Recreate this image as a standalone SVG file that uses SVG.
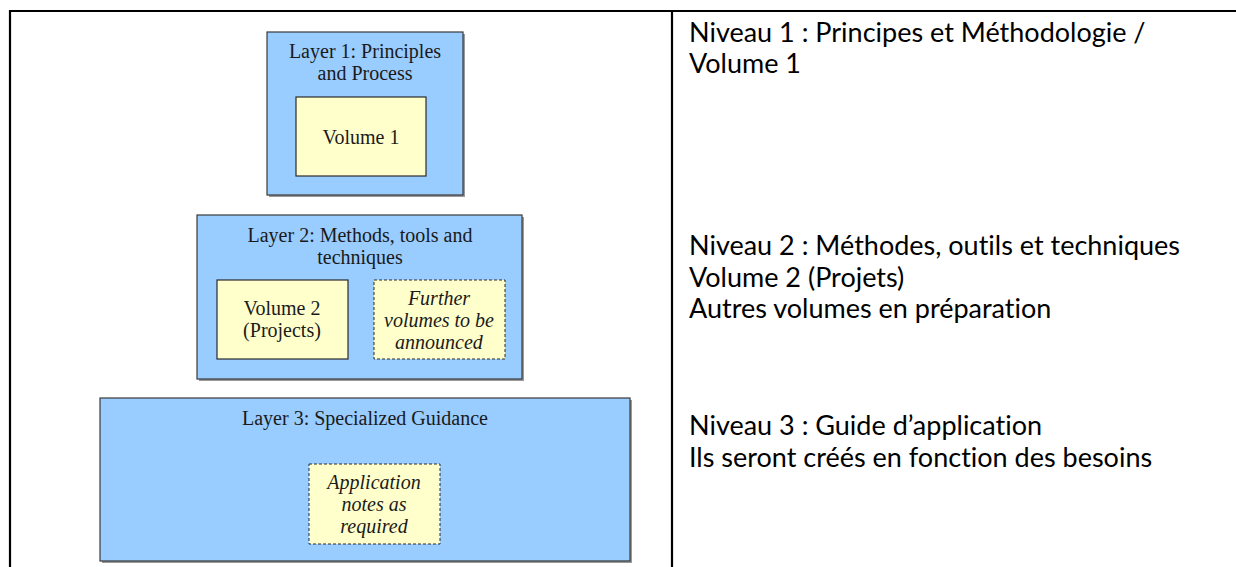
<svg xmlns="http://www.w3.org/2000/svg" width="1236" height="567" viewBox="0 0 1236 567">
<defs>
<style>
.tbl{stroke:#000;stroke-width:2.2;fill:none}
.layer{fill:#99ccff;stroke:#3a3a3a;stroke-width:1.2}
.vol{fill:#ffffcc;stroke:#2a2a2a;stroke-width:1.2}
.dash{fill:#ffffcc;stroke:#2a2a2a;stroke-width:1;stroke-dasharray:3 2}
.sh{fill:#9a9a9a}
.t{font-family:"Liberation Serif","Times New Roman",serif;font-size:20px;fill:#1a1a1a;text-anchor:middle}
.i{font-style:italic}
.r{font-family:Lato,"Noto Sans",sans-serif;font-size:27px;fill:#000;font-variant-ligatures:none}
</style>
</defs>
<g id="table">
<line class="tbl" x1="9" y1="11" x2="1236" y2="11"/>
<line class="tbl" x1="10" y1="10" x2="10" y2="567"/>
<line class="tbl" x1="672" y1="10" x2="672" y2="567"/>
</g>
<g id="layer1">
<rect class="sh" x="269" y="34" width="196" height="163"/>
<rect class="layer" x="267" y="32" width="196" height="163"/>
<text class="t" x="365" y="58">Layer 1: Principles</text>
<text class="t" x="365" y="80">and Process</text>
</g>
<g id="volume1">
<rect class="vol" x="296" y="97" width="130" height="79"/>
<text class="t" x="361" y="144">Volume 1</text>
</g>
<g id="layer2">
<rect class="sh" x="199" y="217" width="325" height="164"/>
<rect class="layer" x="197" y="215" width="325" height="164"/>
<text class="t" x="360" y="242">Layer 2: Methods, tools and</text>
<text class="t" x="360" y="264">techniques</text>
</g>
<g id="volume2">
<rect class="vol" x="217" y="280" width="131" height="79"/>
<text class="t" x="282" y="315">Volume 2</text>
<text class="t" x="282" y="337">(Projects)</text>
</g>
<g id="further">
<rect class="dash" x="374" y="280" width="131" height="79"/>
<text class="t i" x="439" y="305">Further</text>
<text class="t i" x="439" y="327">volumes to be</text>
<text class="t i" x="439" y="349">announced</text>
</g>
<g id="layer3">
<rect class="sh" x="102" y="400" width="530" height="163"/>
<rect class="layer" x="100" y="398" width="530" height="163"/>
<text class="t" x="365" y="425">Layer 3: Specialized Guidance</text>
</g>
<g id="appnotes">
<rect class="dash" x="309" y="464" width="131" height="80"/>
<text class="t i" x="374" y="489">Application</text>
<text class="t i" x="374" y="511">notes as</text>
<text class="t i" x="374" y="533">required</text>
</g>
<g id="connectors"></g>
<g id="right-text">
<text class="r" x="689" y="42">Niveau 1 : Principes et Méthodologie /</text>
<text class="r" x="689" y="73">Volume 1</text>
<text class="r" x="689" y="255">Niveau 2 : Méthodes, outils et techniques</text>
<text class="r" x="689" y="287">Volume 2 (Projets)</text>
<text class="r" x="689" y="318">Autres volumes en préparation</text>
<text class="r" x="689" y="435">Niveau 3 : Guide d’application</text>
<text class="r" x="689" y="467">Ils seront créés en fonction des besoins</text>
</g>
</svg>
